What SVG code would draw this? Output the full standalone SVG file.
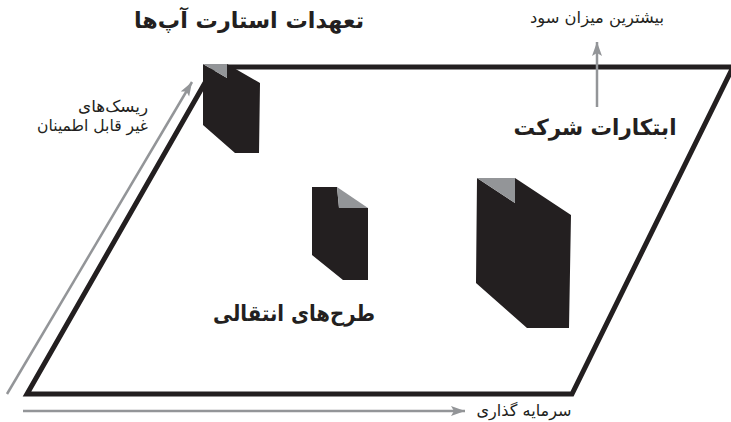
<svg xmlns="http://www.w3.org/2000/svg" width="731" height="422" viewBox="0 0 731 422">
<style>
.frame{fill:none;stroke:#231f20;stroke-width:5;stroke-linejoin:miter}
.arr{fill:none;stroke:#939598;stroke-width:2.5}
.blk{fill:#231f20}
.fold{fill:#939598}
.big{font-family:"DejaVu Sans","Noto Sans",sans-serif;font-weight:bold;font-size:22px;fill:#231f20}
.sm{font-family:"DejaVu Sans","Noto Sans",sans-serif;font-size:16px;fill:#231f20}
</style>
<defs>
<marker id="ah" markerUnits="userSpaceOnUse" markerWidth="16" markerHeight="12" refX="14" refY="5" orient="auto">
<path d="M0,0 L14,5 L0,10 L3,5 z" fill="#939598"/>
</marker>
</defs>
<rect width="731" height="422" fill="#fff"/>
<g id="connectors">
<polygon class="frame" points="214,67 733,67 572,394 27,394"/>
<line class="arr" x1="7" y1="394" x2="192" y2="82" marker-end="url(#ah)"/>
<line class="arr" x1="23" y1="411" x2="465" y2="411" marker-end="url(#ah)"/>
<line class="arr" x1="597" y1="107" x2="597" y2="42" marker-end="url(#ah)"/>
</g>
<g id="block1">
<polygon class="blk" points="203,64 227,78 227,64 260,83 259,153 235,153 203,125"/>
<polygon class="fold" points="203,64 227,64 227,78"/>
</g>
<g id="block2">
<polygon class="blk" points="312,187 337,187 339,208 368,208 368,280 343,280 312,255"/>
<polygon class="fold" points="337,187 368,208 339,208"/>
</g>
<g id="block3">
<polygon class="blk" points="477,178 515,203 515,178 571,215 569,328 527,328 476,283"/>
<polygon class="fold" points="477,178 515,178 515,203"/>
</g>
<g id="title"><text class="big" x="249" y="28" text-anchor="middle" textLength="230" lengthAdjust="spacingAndGlyphs">تعهدات استارت آپ‌ها</text></g>
<g id="innovation"><text class="big" x="595" y="135" text-anchor="middle" textLength="163" lengthAdjust="spacingAndGlyphs">ابتکارات شرکت</text></g>
<g id="transfer"><text class="big" x="294" y="321" text-anchor="middle" textLength="162" lengthAdjust="spacingAndGlyphs">طرح‌های انتقالی</text></g>
<g id="profit"><text class="sm" x="597" y="23" text-anchor="middle" textLength="134" lengthAdjust="spacingAndGlyphs">بیشترین میزان سود</text></g>
<g id="risk">
<text class="sm" x="148" y="112" text-anchor="end" textLength="70" lengthAdjust="spacingAndGlyphs">ریسک‌های</text>
<text class="sm" x="148" y="131" text-anchor="end" textLength="111" lengthAdjust="spacingAndGlyphs">غیر قابل اطمینان</text>
</g>
<g id="invest"><text class="sm" x="524" y="416" text-anchor="middle" textLength="95" lengthAdjust="spacingAndGlyphs">سرمایه گذاری</text></g>
</svg>
